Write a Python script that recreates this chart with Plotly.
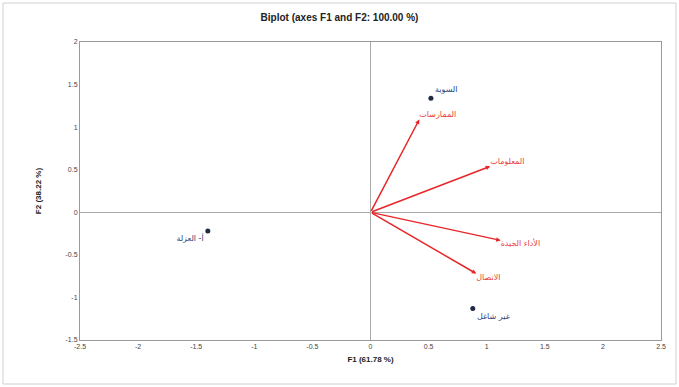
import plotly.graph_objects as go

# Observations (points)
obs_labels = ["السوية", "غير شاغل", "أ- العزلة"]
obs_f1 = [0.52, 0.88, -1.40]
obs_f2 = [1.34, -1.13, -0.22]

# Variables (vectors)
var_labels = ["الممارسات", "المعلومات", "الأداء الجيدة", "الاتصال"]
var_f1 = [0.42, 1.03, 1.12, 0.91]
var_f2 = [1.09, 0.54, -0.33, -0.72]

x_ticks = [-2.5, -2, -1.5, -1, -0.5, 0, 0.5, 1, 1.5, 2, 2.5]
y_ticks = [-1.5, -1, -0.5, 0, 0.5, 1, 1.5, 2]

W, H = 679, 387
ML, MR, MT, MB = 80, 18, 42, 47

fig = go.Figure()

fig.add_trace(go.Scatter(
    x=obs_f1, y=obs_f2, mode="markers+text",
    marker=dict(color="#1f2a44", size=5),
    text=obs_labels,
    textposition=["top right", "bottom right", "bottom left"],
    textfont=dict(color="#2f3f7a", size=8, family="DejaVu Sans"),
    showlegend=False, hoverinfo="skip",
))

fig.add_trace(go.Scatter(
    x=var_f1, y=var_f2, mode="text",
    text=var_labels,
    textposition=["top right", "top right", "bottom right", "bottom right"],
    textfont=dict(color="#e8403a", size=8, family="DejaVu Sans"),
    showlegend=False, hoverinfo="skip",
))

annotations = []
for vx, vy in zip(var_f1, var_f2):
    annotations.append(dict(
        x=vx, y=vy, ax=0, ay=0, xref="x", yref="y", axref="x", ayref="y",
        showarrow=True, arrowhead=2, arrowsize=0.6, arrowwidth=1.5,
        arrowcolor="#e8262a", text="",
    ))

pw = W - ML - MR
ph = H - MT - MB
shapes = [dict(
    type="rect", xref="paper", yref="paper",
    x0=(3 - ML) / pw, x1=(W - 3 - ML) / pw,
    y0=-(H - 3 - MT - ph) / ph, y1=(MT - 3 + ph) / ph,
    line=dict(color="#d0d0d0", width=1), fillcolor="rgba(0,0,0,0)", layer="below",
)]

fig.update_layout(
    width=W, height=H,
    margin=dict(l=ML, r=MR, t=MT, b=MB, autoexpand=False),
    paper_bgcolor="white", plot_bgcolor="white",
    font=dict(family="Liberation Sans, DejaVu Sans", size=8, color="#333"),
    title=dict(text="<b>Biplot (axes F1 and F2: 100.00 %)</b>", x=0.5, xanchor="center",
               y=1 - 17 / H, yanchor="middle", font=dict(size=10, color="#222")),
    annotations=annotations,
    shapes=shapes,
    xaxis=dict(range=[-2.5, 2.5], tickvals=x_ticks, ticktext=[str(t) for t in x_ticks],
               showgrid=False, zeroline=True, zerolinecolor="#aaaaaa", zerolinewidth=1,
               showline=True, linecolor="#999999", linewidth=1, mirror=True,
               automargin=False,
               tickfont=dict(size=7, color="#444"),
               title=dict(text="<b>F1 (61.78 %)</b>", font=dict(size=8, color="#222"), standoff=6)),
    yaxis=dict(range=[-1.5, 2], tickvals=y_ticks, ticktext=[str(t) for t in y_ticks],
               showgrid=False, zeroline=True, zerolinecolor="#aaaaaa", zerolinewidth=1,
               showline=True, linecolor="#999999", linewidth=1, mirror=True,
               automargin=False,
               tickfont=dict(size=7, color="#444"),
               title=dict(text="<b>F2 (38.22 %)</b>", font=dict(size=8, color="#222"), standoff=22)),
)

fig.write_html("out.html", config={"displayModeBar": False},
               post_script="document.body.style.margin='0';document.body.style.padding='0';")
